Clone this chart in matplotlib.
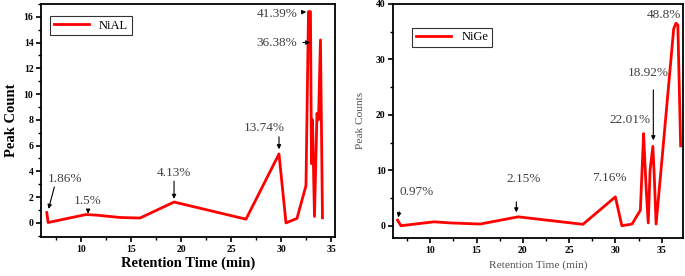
import matplotlib
matplotlib.use("Agg")
import matplotlib.pyplot as plt
from matplotlib.ticker import MultipleLocator

plt.rcParams['font.family'] = ['Liberation Serif', 'DejaVu Serif']

# NiAL data
nial_x = [6.57, 6.7, 10.5, 11.6, 13.9, 15.9, 19.3, 26.5, 29.8, 30.5, 31.6, 32.5,
          32.75, 32.95, 33.05, 33.15, 33.35, 33.6, 33.75, 33.95, 34.05, 34.15]
nial_y = [0.8, 0.03, 0.65, 0.6, 0.42, 0.38, 1.62, 0.29, 5.35, 0.0, 0.35, 2.9,
          16.4, 16.4, 4.6, 8.0, 0.5, 8.5, 8.0, 14.2, 7.3, 0.4]

# NiGe data
nige_x = [6.47, 6.84, 10.4, 12.2, 15.4, 19.5, 26.5, 30.0, 30.7, 31.8, 32.7,
          33.05, 33.2, 33.35, 33.55, 33.75, 34.05, 34.2, 34.4, 35.2, 36.3, 36.55, 36.75, 37.05]
nige_y = [1.0, 0.0, 0.7, 0.5, 0.3, 1.6, 0.25, 5.2, 0.0, 0.3, 2.8,
          16.6, 11.0, 6.0, 0.5, 10.0, 14.3, 9.0, 0.3, 15.0, 35.5, 36.5, 36.2, 14.4]

gray = '#404040'

fig = plt.figure(figsize=(6.85, 2.76), dpi=100)

# ---------- Left panel ----------
ax1 = fig.add_axes([0.060, 0.141, 0.429, 0.845])
ax1.plot(nial_x, nial_y, color='#ff0000', lw=2.0, label='NiAL')
ax1.set_xlim(6.0, 35.4)
ax1.set_ylim(-1.1, 17.0)
ax1.xaxis.set_major_locator(MultipleLocator(5))
ax1.xaxis.set_minor_locator(MultipleLocator(2.5))
ax1.yaxis.set_major_locator(MultipleLocator(2))
ax1.yaxis.set_minor_locator(MultipleLocator(1))
ax1.set_xlabel('Retention Time (min)', fontsize=10.5, fontweight='bold', labelpad=2)
ax1.set_ylabel('Peak Count', fontsize=10.5, fontweight='bold', labelpad=4)
leg1 = ax1.legend(loc='upper left', fontsize=9, frameon=True, fancybox=False,
                  edgecolor='black', handlelength=2.8, borderpad=0.3,
                  bbox_to_anchor=(0.01, 0.975))
leg1.get_frame().set_linewidth(0.8)

ann_kw = dict(fontsize=9.5, color=gray, ha='center', va='center')
arr = dict(arrowstyle='-|>', color='black', lw=0.8, mutation_scale=6)
ax1.annotate('41.39%', xy=(32.8, 16.4), xytext=(29.6, 16.2), arrowprops=arr, **ann_kw)
ax1.annotate('36.38%', xy=(33.2, 14.0), xytext=(29.6, 14.0), arrowprops=arr, **ann_kw)
ax1.annotate('13.74%', xy=(28.3, 7.4), **ann_kw)
ax1.annotate('', xy=(29.8, 5.5), xytext=(29.8, 6.9), arrowprops=arr)
ax1.annotate('4.13%', xy=(19.3, 3.9), **ann_kw)
ax1.annotate('', xy=(19.3, 1.65), xytext=(19.3, 3.45), arrowprops=arr)
ax1.annotate('1.5%', xy=(10.7, 1.7), **ann_kw)
ax1.annotate('', xy=(10.7, 0.72), xytext=(10.7, 1.15), arrowprops=arr)
ax1.annotate('1.86%', xy=(8.4, 3.4), **ann_kw)
ax1.annotate('', xy=(6.67, 0.88), xytext=(7.4, 3.0), arrowprops=arr)

# ---------- Right panel ----------
ax2 = fig.add_axes([0.574, 0.138, 0.423, 0.848])
ax2.plot(nige_x, nige_y, color='#ff0000', lw=2.0, label='NiGe')
ax2.set_xlim(6.0, 37.3)
ax2.set_ylim(-2.2, 40)
ax2.xaxis.set_major_locator(MultipleLocator(5))
ax2.xaxis.set_minor_locator(MultipleLocator(2.5))
ax2.yaxis.set_major_locator(MultipleLocator(10))
ax2.yaxis.set_minor_locator(MultipleLocator(5))
ax2.set_xlabel('Retention Time (min)', fontsize=8.2, color='#505050', labelpad=4)
ax2.set_ylabel('Peak Counts', fontsize=8.2, color='#505050', labelpad=8)
leg2 = ax2.legend(loc='upper left', fontsize=9, frameon=True, fancybox=False,
                  edgecolor='black', handlelength=2.8, borderpad=0.3,
                  bbox_to_anchor=(0.045, 0.925))
leg2.get_frame().set_linewidth(0.8)

ax2.annotate('48.8%', xy=(35.2, 38.0), **ann_kw)
ax2.annotate('18.92%', xy=(33.55, 27.6), **ann_kw)
ax2.annotate('', xy=(34.1, 14.9), xytext=(34.1, 25.0), arrowprops=arr)
ax2.annotate('22.01%', xy=(31.6, 19.1), **ann_kw)
ax2.annotate('7.16%', xy=(29.4, 8.55), **ann_kw)
ax2.annotate('2.15%', xy=(20.1, 8.4), **ann_kw)
ax2.annotate('', xy=(19.3, 1.9), xytext=(19.3, 4.8), arrowprops=arr)
ax2.annotate('0.97%', xy=(8.5, 6.0), **ann_kw)
ax2.annotate('', xy=(6.5, 1.0), xytext=(6.7, 3.0), arrowprops=arr)

for ax in (ax1, ax2):
    for s in ax.spines.values():
        s.set_linewidth(1.3)
    ax.tick_params(which='major', direction='out', length=3.5, width=1.2, labelsize=7, pad=2)
    ax.tick_params(which='minor', direction='out', length=2, width=1.0)
    for lab in ax.get_xticklabels() + ax.get_yticklabels():
        lab.set_fontweight('bold')

fig.savefig('out.png', dpi=100)
